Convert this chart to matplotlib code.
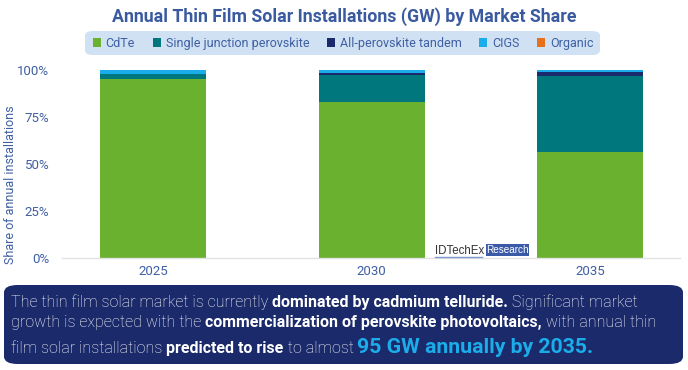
import matplotlib.pyplot as plt
from matplotlib.patches import FancyBboxPatch, Rectangle
import numpy as np

plt.rcParams['font.family'] = ['Roboto', 'DejaVu Sans']

# data (share of annual installations, %)
years = ['2025', '2030', '2035']
cdte = [95.2, 83.1, 56.4]
single_junction = [2.5, 14.2, 40.2]
tandem = [0.2, 1.0, 2.5]
cigs = [1.9, 1.6, 0.8]
organic = [0.2, 0.1, 0.1]

series = [('CdTe', cdte, '#6ab12f'),
          ('Single junction perovskite', single_junction, '#00767d'),
          ('All-perovskite tandem', tandem, '#1a2a6c'),
          ('CIGS', cigs, '#1badea'),
          ('Organic', organic, '#e8701a')]

TXT = '#3f5fa3'
W, H = 688, 370
fig = plt.figure(figsize=(W / 100, H / 100), dpi=100)

ax = fig.add_axes([62 / W, 1 - 258 / H, (680 - 62) / W, (258 - 70) / H])
x = np.arange(len(years))
bottom = np.zeros(len(years))
for name, vals, col in series:
    ax.bar(x, vals, width=0.485, bottom=bottom, color=col, label=name, zorder=2)
    bottom += np.array(vals)

ax.set_xlim(-0.416, 2.41)
ax.set_ylim(0, 100)
ax.set_xticks(x)
ax.set_xticklabels(years)
ax.set_yticks([0, 25, 50, 75, 100])
ax.set_yticklabels(['0%', '25%', '50%', '75%', '100%'])
ax.tick_params(length=0, labelsize=9.5, labelcolor=TXT)
ax.tick_params(axis='x', pad=5)
ax.tick_params(axis='y', pad=9)
for s in ['top', 'right', 'left']:
    ax.spines[s].set_visible(False)
ax.spines['bottom'].set_color('#e2e2e2')
ax.spines['bottom'].set_linewidth(1)
ax.set_ylabel('Share of annual installations', fontsize=9, color=TXT)
ax.yaxis.set_label_coords(11 / W, 0.5, transform=fig.transFigure)
ax.yaxis.label.set_va('center')

# title
fig.text(344 / W, 1 - 17 / H, 'Annual Thin Film Solar Installations (GW) by Market Share',
         ha='center', va='center', fontsize=12.8, fontweight='bold', color='#3a5aa0')

# legend box
fig.patches.append(FancyBboxPatch((85 / W, 1 - 55 / H), (600 - 85) / W, 24 / H,
                                  boxstyle='round,pad=0,rounding_size=0.012',
                                  transform=fig.transFigure, fc='#cfe1f3', ec='none'))
leg = fig.legend(loc='center', bbox_to_anchor=(343 / W, 1 - 43.5 / H), ncol=5,
                 frameon=False, fontsize=9, handlelength=0.64, handleheight=0.64,
                 handletextpad=0.4, columnspacing=1.4, borderpad=0, borderaxespad=0)
for t in leg.get_texts():
    t.set_color(TXT)

# watermark logo
fig.text(435 / W, 1 - 253.5 / H, 'IDTechEx', fontsize=8.3, color='#333333', va='baseline',
         family=['Liberation Sans', 'DejaVu Sans'])
fig.patches.append(Rectangle((486 / W, 1 - 256 / H), 43 / W, 12 / H,
                             transform=fig.transFigure, fc='#3a5aa8', ec='none'))
fig.text(507.5 / W, 1 - 250 / H, 'Research', fontsize=7.2, color='white',
         ha='center', va='center', family=['Liberation Sans', 'DejaVu Sans'])
fig.add_artist(plt.Line2D([435 / W, 482 / W], [1 - 256.5 / H, 1 - 256.5 / H],
                          color='#7f9ad0', lw=1, transform=fig.transFigure))

# bottom text box
fig.patches.append(FancyBboxPatch((4 / W, 1 - 364 / H), 679 / W, 79 / H,
                                  boxstyle='round,pad=0,rounding_size=0.02',
                                  transform=fig.transFigure, fc='#1b2a6b', ec='none'))

lines = [
    [('The thin film solar market is currently ', 'light', 'white', 11.5),
     ('dominated by cadmium telluride.', 'bold', 'white', 11.5),
     (' Significant market', 'light', 'white', 11.5)],
    [('growth is expected with the ', 'light', 'white', 11.5),
     ('commercialization of perovskite photovoltaics,', 'bold', 'white', 11.5),
     (' with annual thin', 'light', 'white', 11.5)],
    [('film solar installations ', 'light', 'white', 11.5),
     ('predicted to rise', 'bold', 'white', 11.5),
     (' to almost ', 'light', 'white', 11.5),
     ('95 GW annually by 2035.', 'bold', '#1badea', 15.3)],
]
line_y = [307, 327, 353]

fig.canvas.draw()
renderer = fig.canvas.get_renderer()
for segs, ly in zip(lines, line_y):
    xpos = 11 / W
    for txt, wt, col, sz in segs:
        t = fig.text(xpos, 1 - ly / H, txt, fontsize=sz, fontweight=wt, color=col,
                     va='baseline', ha='left')
        bb = t.get_window_extent(renderer=renderer)
        xpos += bb.width / W

fig.savefig('out.png', dpi=100)
